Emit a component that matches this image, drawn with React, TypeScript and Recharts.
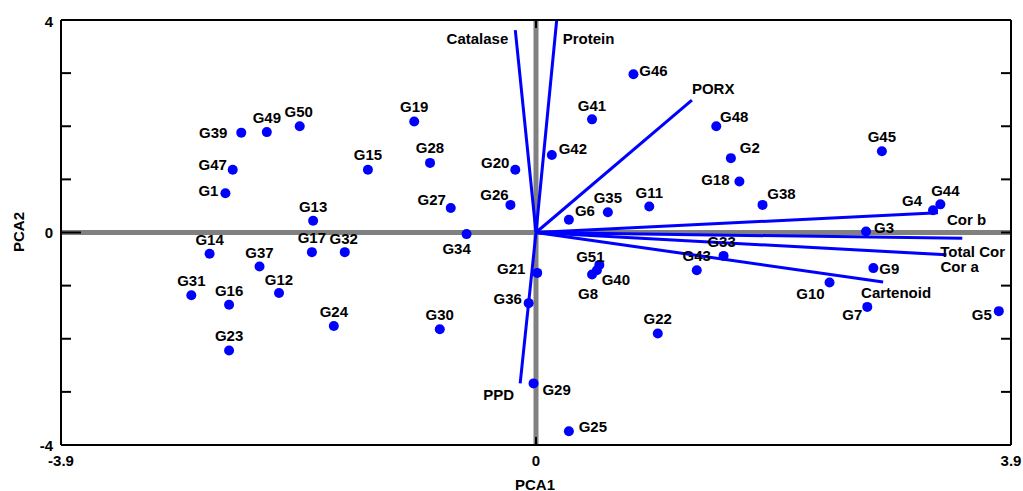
import React from 'react';
import { ScatterChart, Scatter, XAxis, YAxis, ReferenceLine } from 'recharts';

// ---------- data ----------
const pointNames = ['G1','G2','G3','G4','G5','G6','G7','G8','G9','G10','G11','G12','G13','G14','G15','G16','G17','G18','G19','G20','G21','G22','G23','G24','G25','G26','G27','G28','G29','G30','G31','G32','G33','G34','G35','G36','G37','G38','G39','G40','G41','G42','G43','G44','G45','G46','G47','G48','G49','G50','G51'];
const pc1 = [-2.55,1.60,2.71,3.26,3.80,0.27,2.72,0.46,2.77,2.41,0.93,-2.11,-1.83,-2.68,-1.38,-2.52,-1.84,1.67,-1.00,-0.17,0.01,1.00,-2.52,-1.66,0.27,-0.21,-0.70,-0.87,-0.02,-0.79,-2.83,-1.57,1.54,-0.57,0.59,-0.06,-2.27,1.86,-2.42,0.50,0.46,0.13,1.32,3.32,2.84,0.80,-2.49,1.48,-2.21,-1.94,0.52];
const pc2 = [0.74,1.40,0.02,0.42,-1.48,0.24,-1.40,-0.79,-0.67,-0.94,0.49,-1.14,0.22,-0.40,1.18,-1.36,-0.37,0.96,2.09,1.18,-0.76,-1.90,-2.22,-1.76,-3.74,0.52,0.46,1.31,-2.84,-1.82,-1.18,-0.37,-0.44,-0.03,0.38,-1.33,-0.64,0.52,1.88,-0.71,2.13,1.46,-0.71,0.53,1.53,2.98,1.18,2.00,1.89,2.00,-0.61];

const vectorNames = ['Catalase','Protein','PORX','Cor b','Total Cor','Cor a','Cartenoid','PPD'];
const vecPC1 = [-0.17,0.17,1.28,3.30,3.50,3.37,2.85,-0.13];
const vecPC2 = [3.81,4.0,2.49,0.37,-0.11,-0.42,-0.93,-2.84];

const xTicks = [-3.9, 0, 3.9];
const xTickLabels = ['-3.9', '0', '3.9'];
const yTicks = [-4, -3, -2, -1, 0, 1, 2, 3, 4];
const yTickLabels: Record<string, string> = { '-4': '-4', '0': '0', '4': '4' };

// ---------- label placement (pixel offsets of label centre from its point) ----------
const pointLabelOffset: Record<string, [number, number]> = {
  G39: [-28, 0], G49: [0, -15], G50: [-1, -15], G47: [-20, -5], G1: [-17, -3],
  G13: [0, -14], G14: [0, -14], G37: [0, -14], G17: [0, -15], G32: [-1, -14],
  G31: [0, -15], G16: [0, -14], G12: [0, -14], G23: [0, -15], G24: [0, -15],
  G19: [0, -15], G28: [0, -15], G15: [0, -15], G20: [-20, -7], G27: [-19, -9],
  G26: [-16, -10], G34: [-10, 14], G41: [0, -14], G42: [21, -6], G46: [20, -4],
  G6: [16, -9], G35: [0, -15], G11: [0, -14], G48: [18, -10], G2: [19, -11],
  G18: [-24, -2], G38: [19, -11], G45: [0, -15], G4: [-21, -10], G44: [5, -14],
  G3: [18, -4], G33: [-2, -14], G43: [0, -15], G9: [16, 0], G10: [-19, 11],
  G7: [-15, 8], G5: [-17, 3], G21: [-26, -4], G36: [-21, -5], G51: [-9, -8],
  G40: [19, 9], G8: [-4, 19], G22: [0, -15], G30: [0, -15], G29: [23, 6], G25: [24, -5],
};
const vectorLabelOffset: Record<string, [number, number, 'start' | 'end']> = {
  Catalase: [-7, 8, 'end'], Protein: [6, 18, 'start'], PORX: [0, -12, 'start'],
  'Cor b': [9, 7, 'start'], 'Total Cor': [-22, 13, 'start'], 'Cor a': [-6, 12, 'start'],
  Cartenoid: [-22, 11, 'start'], PPD: [-37, 11, 'start'],
};

const points = pointNames.map((name, i) => ({ name, x: pc1[i], y: pc2[i] }));
const vectors = vectorNames.map((name, i) => ({ name, x: vecPC1[i], y: vecPC2[i] }));

// ---------- layout ----------
const W = 1023, H = 491;
const PL = 61, PR = 1011, PT = 20, PB = 445;
const AX = 1; // axis band thickness
const BLUE = '#0000FF';
const FONT = '"Liberation Sans", Arial, Helvetica, sans-serif';
const txt: React.CSSProperties = { fontFamily: FONT, fontSize: 15, fontWeight: 700, fill: '#000' };

const PointShape = (props: any) => {
  const { cx, cy, payload } = props;
  const [dx, dy] = pointLabelOffset[payload.name] || [0, -14];
  return (
    <g>
      <circle cx={cx} cy={cy} r={5} fill={BLUE} />
      <text x={cx + dx} y={cy + dy} textAnchor="middle" dominantBaseline="central" style={txt}>{payload.name}</text>
    </g>
  );
};

const VectorLabel = (props: any) => {
  const { cx, cy, payload } = props;
  const [dx, dy, anchor] = vectorLabelOffset[payload.name] || [4, 0, 'start'];
  return (
    <text x={cx + dx} y={cy + dy} textAnchor={anchor} dominantBaseline="central" style={txt}>{payload.name}</text>
  );
};

const Hidden = () => <g />;

const BottomTick = (props: any) => {
  const { x, payload } = props;
  const idx = xTicks.indexOf(payload.value);
  return (
    <g>
      <line x1={x} x2={x} y1={PB} y2={PB - 8} stroke="#000" strokeWidth={2} />
      <text x={x} y={460} textAnchor="middle" dominantBaseline="central" style={txt}>{idx >= 0 ? xTickLabels[idx] : ''}</text>
    </g>
  );
};

const TopTick = (props: any) => {
  const { x } = props;
  return <line x1={x} x2={x} y1={PT} y2={PT + 8} stroke="#000" strokeWidth={2} />;
};

const LeftTick = (props: any) => {
  const { y, payload } = props;
  const v = payload.value;
  const label = yTickLabels[String(v)] || '';
  return (
    <g>
      <line x1={PL} x2={PL + (v === 0 ? 20 : 10)} y1={y} y2={y} stroke="#000" strokeWidth={2} />
      <text x={53} y={v === 4 ? y + 1 : y} textAnchor="end" dominantBaseline="central" style={txt}>{label}</text>
    </g>
  );
};

const RightTick = (props: any) => {
  const { y } = props;
  return <line x1={PR} x2={PR - 10} y1={y} y2={y} stroke="#000" strokeWidth={2} />;
};

const axisLine = { stroke: '#000', strokeWidth: 2 };

export default function App() {
  return (
    <div style={{ position: 'absolute', left: 0, top: 0, width: W, height: H, background: '#fff', fontFamily: FONT }}>
      <ScatterChart width={W} height={H}
        margin={{ top: PT - AX, right: W - PR - AX, bottom: H - PB - AX, left: PL - AX }}>
        <XAxis xAxisId="b" type="number" dataKey="x" domain={[-3.9, 3.9]} ticks={xTicks} interval={0}
          height={AX} axisLine={axisLine} tickLine={false} tick={(p: any) => <BottomTick {...p} />} allowDataOverflow />
        <XAxis xAxisId="t" orientation="top" type="number" dataKey="x" domain={[-3.9, 3.9]} ticks={[0]} interval={0}
          height={AX} axisLine={axisLine} tickLine={false} tick={(p: any) => <TopTick {...p} />} allowDataOverflow />
        <YAxis yAxisId="l" type="number" dataKey="y" domain={[-4, 4]} ticks={yTicks} interval={0}
          width={AX} axisLine={axisLine} tickLine={false} tick={(p: any) => <LeftTick {...p} />} allowDataOverflow />
        <YAxis yAxisId="r" orientation="right" type="number" dataKey="y" domain={[-4, 4]} ticks={yTicks} interval={0}
          width={AX} axisLine={axisLine} tickLine={false} tick={(p: any) => <RightTick {...p} />} allowDataOverflow />

        <ReferenceLine xAxisId="b" yAxisId="l" y={0} stroke="#808080" strokeWidth={5} />
        <ReferenceLine xAxisId="b" yAxisId="l" x={0} stroke="#808080" strokeWidth={5} />

        {vectors.map((v) => (
          <ReferenceLine key={v.name} xAxisId="b" yAxisId="l" ifOverflow="visible"
            segment={[{ x: 0, y: 0 }, { x: v.x, y: v.y }]} stroke={BLUE} strokeWidth={3} />
        ))}

        <Scatter xAxisId="t" yAxisId="r" data={points} shape={Hidden} isAnimationActive={false} />
        <Scatter xAxisId="b" yAxisId="l" data={vectors} shape={(p: any) => <VectorLabel {...p} />} isAnimationActive={false} />
        <Scatter xAxisId="b" yAxisId="l" data={points} shape={(p: any) => <PointShape {...p} />} isAnimationActive={false} />

        <text x={535} y={484} textAnchor="middle" dominantBaseline="central" style={txt}>PCA1</text>
        <text x={18} y={232} textAnchor="middle" dominantBaseline="central" transform="rotate(-90 18 232)" style={txt}>PCA2</text>
      </ScatterChart>
    </div>
  );
}
